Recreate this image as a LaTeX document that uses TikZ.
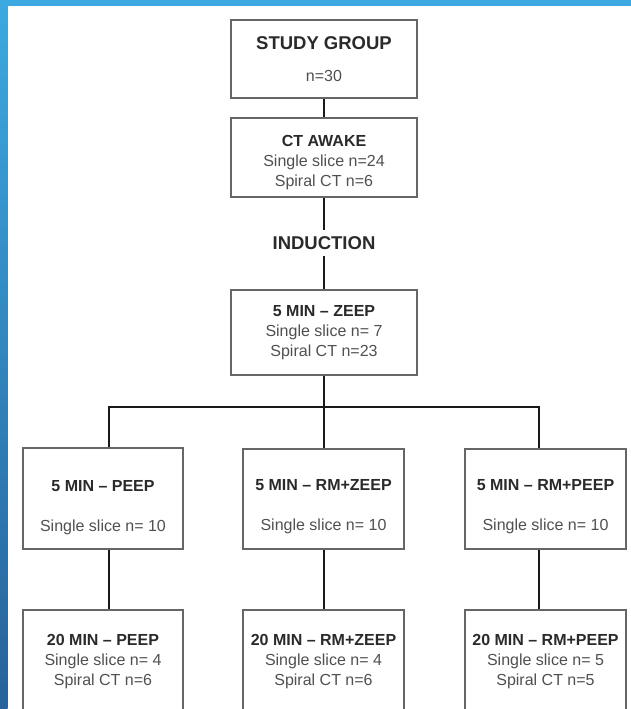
\documentclass[tikz,border=0pt]{standalone}
\usepackage{fontspec}
\setmainfont{Liberation Sans}
\usetikzlibrary{positioning,calc}
\definecolor{frameTop}{HTML}{3CA9E0}
\definecolor{frameBot}{HTML}{27629A}
\definecolor{headInk}{HTML}{2A2A2A}
\definecolor{bodyInk}{HTML}{505050}
\newcommand{\hd}[1]{{\bfseries\color{headInk}#1}}
\newcommand{\bighd}[1]{{\fontsize{18.5}{20}\selectfont\bfseries\color{headInk}#1}}
\newcommand{\dropstrut}[1]{\rule{0pt}{#1}}
\tikzset{
  every node/.style={font=\fontsize{16}{20}\selectfont, text=bodyInk},
  stagebox/.style={draw=black!60, line width=1.2pt, fill=white, align=center, inner sep=2pt},
  topbox/.style={stagebox, minimum width=186pt},
  armbox/.style={stagebox, minimum width=161pt},
  link/.style={draw=black!90, line width=2pt},
}

\begin{document}
\begin{tikzpicture}[x=1pt,y=-1pt]
  \useasboundingbox (0,0) rectangle (631,709);
  \clip (0,0) rectangle (631,709);

  % frame
  \fill[white] (0,0) rectangle (631,709);
  \shade[top color=frameTop, bottom color=frameBot] (0,0) rectangle (7.5,709);
  \fill[frameTop] (0,0) rectangle (631,6);

  % trunk
  \node[topbox, minimum height=78pt] (study) at (324,59) {\bighd{STUDY GROUP}\\[12pt]n=30};
  \node[topbox, minimum height=79pt] (awake) at (324,157.5) {\dropstrut{21pt}\hd{CT AWAKE}\\Single slice n=24\\Spiral CT n=6};
  \node[minimum height=25pt, inner sep=0pt] (induct) at (324,243) {\bighd{INDUCTION}};
  \node[topbox, minimum height=85pt] (zeep) at (324,332.5) {\hd{5 MIN – ZEEP}\\Single slice n= 7\\Spiral CT n=23};

  % 5 min arms
  \node[armbox, minimum width=160pt, minimum height=101pt] (peep) at (103,498.5) {\dropstrut{29pt}\hd{5 MIN – PEEP}\\[20pt]Single slice n= 10};
  \node[armbox, minimum height=100pt] (rmzeep) at (323.5,499) {\dropstrut{26pt}\hd{5 MIN – RM+ZEEP}\\[20pt]Single slice n= 10};
  \node[armbox, minimum height=100pt] (rmpeep) at (545.5,499) {\dropstrut{26pt}\hd{5 MIN – RM+PEEP}\\[20pt]Single slice n= 10};

  % 20 min arms
  \node[armbox, minimum width=160pt, minimum height=104pt] (peepB) at (103,662) {\hd{20 MIN – PEEP}\\Single slice n= 4\\Spiral CT n=6};
  \node[armbox, minimum height=104pt] (rmzeepB) at (323.5,662) {\hd{20 MIN – RM+ZEEP}\\Single slice n= 4\\Spiral CT n=6};
  \node[armbox, minimum height=104pt] (rmpeepB) at (545.5,662) {\hd{20 MIN – RM+PEEP}\\Single slice n= 5\\Spiral CT n=5};

  % bus
  \coordinate (bus) at (324,407);
  \coordinate (busL) at (109,407);
  \coordinate (busR) at (539,407);

  % connectors
  \draw[link] (study) -- (awake);
  \draw[link] (awake) -- (induct);
  \draw[link] (induct) -- (zeep);
  \draw[link] (zeep) -- (bus);
  \draw[link, line cap=rect] (busL) -- (busR);
  \draw[link] (busL) -- (busL |- peep.north);
  \draw[link] (bus) -- (bus |- rmzeep.north);
  \draw[link] (busR) -- (busR |- rmpeep.north);
  \draw[link] (peep.south -| busL) -- (peepB.north -| busL);
  \draw[link] (rmzeep.south -| bus) -- (rmzeepB.north -| bus);
  \draw[link] (rmpeep.south -| busR) -- (rmpeepB.north -| busR);
\end{tikzpicture}
\end{document}
